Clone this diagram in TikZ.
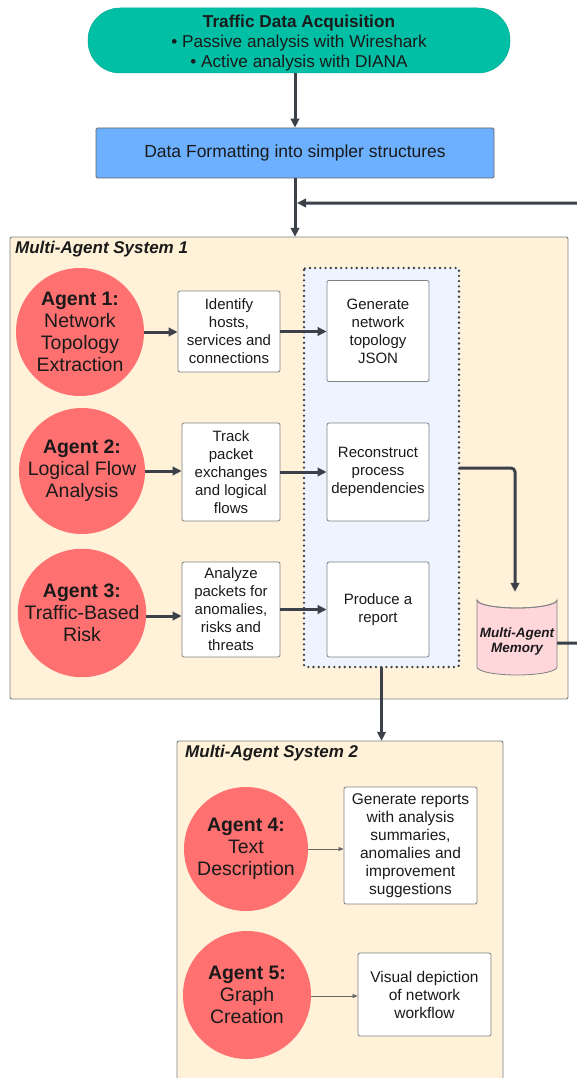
\documentclass[tikz,border=0pt]{standalone}
\usepackage{fontspec}
\setmainfont{Liberation Sans}
\usetikzlibrary{arrows.meta,calc}
\definecolor{teal1}{HTML}{00BFA5}
\definecolor{blue1}{HTML}{6CB0FF}
\definecolor{cream}{HTML}{FFF2D9}
\definecolor{paleblue}{HTML}{EDF4FF}
\definecolor{agentred}{HTML}{FF7070}
\definecolor{pink1}{HTML}{FFD6D9}
\definecolor{arrowc}{HTML}{3B4049}
\definecolor{borderc}{HTML}{7E8085}
\definecolor{txt}{HTML}{1A1A1A}
\tikzset{
  agent/.style={circle, fill=agentred, inner sep=0pt, align=center, text=txt,
    font=\fontsize{19.5}{22}\selectfont},
  taskbox/.style={rectangle, draw=borderc, line width=0.8pt, fill=white, rounded corners=2pt,
    inner sep=0pt, align=center, text=txt, font=\fontsize{15}{18}\selectfont},
  frame/.style={draw=borderc, line width=0.9pt, fill=cream, rounded corners=2pt},
  frametitle/.style={anchor=west, inner sep=0pt, text=txt, font=\fontsize{17}{20}\selectfont\bfseries\itshape},
  mainarrow/.style={draw=arrowc, line width=3pt, -{Triangle[length=9pt,width=8.5pt]}},
  mainline/.style={draw=arrowc, line width=3pt},
  thinarrow/.style={draw=gray!80!black, line width=0.7pt, -{Triangle[length=5pt,width=4pt]}},
}
\begin{document}
\begin{tikzpicture}[x=1pt,y=-1pt]
\useasboundingbox (0,0) rectangle (576,1078);
\fill[white] (0,0) rectangle (576,1078);

% top
\node[rectangle, rounded corners=32pt, fill=teal1, draw=teal1!90!black, line width=0.5pt,
  minimum width=422pt, minimum height=65pt, inner sep=0pt,
  label={[yshift=-2.5pt, align=center, text=txt, inner sep=0pt, font=\fontsize{17.2}{20}\selectfont]center:{\textbf{Traffic Data Acquisition}\\ • Passive analysis with Wireshark\\ • Active analysis with DIANA}}] (acq) at (299,40.5) {};
\node[rectangle, fill=blue1, draw=borderc!80!black, line width=0.8pt, rounded corners=1.5pt,
  minimum width=398pt, minimum height=50pt, inner sep=0pt, text=txt,
  font=\fontsize{17.5}{20}\selectfont] (fmt) at (295,153) {Data Formatting into simpler structures};

% MAS 1
\path[frame] (10,237) rectangle (568,699);
\node[minimum width=558pt, minimum height=462pt, inner sep=0pt] (mas1) at (289,468) {};
\node[frametitle] (t1) at (15,249) {Multi-Agent System 1};

\path[fill=paleblue] (304,268) rectangle (459,667);
\draw[arrowc, line width=2.6pt, line cap=round, dash pattern=on 0pt off 5.2pt, rounded corners=2pt] (304,268) rectangle (459,667);
\node[minimum width=155pt, minimum height=399pt, inner sep=0pt] (dot) at (381.5,467.5) {};

\node[agent, minimum size=128pt] (a1) at (80,332) {\textbf{Agent 1:}\\Network\\Topology\\Extraction};
\node[taskbox, minimum width=102pt, minimum height=81pt] (b1) at (229,331.5) {Identify\\hosts,\\services and\\connections};
\node[taskbox, minimum width=102pt, minimum height=101pt] (g1) at (378,331) {Generate\\network\\topology\\JSON};

\node[agent, minimum size=126pt] (a2) at (82,471) {\textbf{Agent 2:}\\Logical Flow\\Analysis};
\node[taskbox, minimum width=98pt, minimum height=98pt] (b2) at (231,472) {Track\\packet\\exchanges\\and logical\\flows};
\node[taskbox, minimum width=102pt, minimum height=98pt] (g2) at (378,472) {Reconstruct\\process\\dependencies};

\node[agent, minimum size=124pt] (a3) at (82,613) {\textbf{Agent 3:}\\Traffic-Based\\Risk};
\node[taskbox, minimum width=98pt, minimum height=95pt] (b3) at (231,609.5) {Analyze\\packets for\\anomalies,\\risks and\\threats};
\node[taskbox, minimum width=102pt, minimum height=95pt] (g3) at (378,609.5) {Produce a\\report};

% memory cylinder
\node[minimum width=80pt, minimum height=83pt, inner sep=0pt] (mem) at (517,633.5) {};
\path[fill=pink1, draw=borderc, line width=0.8pt]
  (477,600) -- (477,667) arc[start angle=180, end angle=360, x radius=40, y radius=-8]
  -- (557,600) arc[start angle=0, end angle=-180, x radius=40, y radius=-8] -- cycle;
\draw[borderc, line width=0.8pt] (477,600) arc[start angle=180, end angle=360, x radius=40, y radius=-8];
\node[align=center, inner sep=0pt, text=txt, font=\fontsize{13.5}{15}\selectfont\bfseries\itshape] (memlbl) at (517,641.5) {Multi-Agent\\Memory};

% MAS 2
\path[frame] (177,741) rectangle (503,1095);
\node[minimum width=326pt, minimum height=354pt, inner sep=0pt] (mas2) at (340,918) {};
\node[frametitle] (t2) at (185,753) {Multi-Agent System 2};

\node[agent, minimum size=124pt] (a4) at (246,849) {\textbf{Agent 4:}\\Text\\Description};
\node[taskbox, minimum width=133pt, minimum height=117pt, font=\fontsize{15.5}{18}\selectfont] (b4) at (410.5,845.5)
  {Generate reports\\with analysis\\summaries,\\anomalies and\\improvement\\suggestions};
\node[agent, minimum size=128pt] (a5) at (247,995) {\textbf{Agent 5:}\\Graph\\Creation};
\node[taskbox, minimum width=133pt, minimum height=83pt, font=\fontsize{15.5}{18}\selectfont] (b5) at (424.5,994.5)
  {Visual depiction\\of network\\workflow};

% connectors
\draw[mainarrow] (acq.south -| fmt.north) -- (fmt.north);
\draw[mainarrow] (fmt.south) -- (fmt.south |- mas1.north);
\draw[mainarrow] (a1.east) -- (a1.east -| b1.west);
\draw[mainarrow] (b1.east) -- (b1.east -| g1.west);
\draw[mainarrow] (a2.east) -- (a2.east -| b2.west);
\draw[mainarrow] (b2.east) -- (b2.east -| g2.west);
\draw[mainarrow] ([yshift=-3pt]a3.east) -- ([yshift=-3pt]a3.east -| b3.west);
\draw[mainarrow] (b3.east) -- (b3.east -| g3.west);
\coordinate (dr) at (459,468);
\draw[mainarrow, rounded corners=4pt] (dr) -| ([xshift=-2pt]mem.north);
\coordinate (memout) at (557,643);
\coordinate (loopR) at (600,203);
\coordinate (join) at (297,203);
\draw[mainarrow, rounded corners=4pt] (memout) -| (loopR) -- (join);
\draw[mainarrow] (dot.south) -- (dot.south |- mas2.north);
\draw[thinarrow] (a4.east) -- (a4.east -| b4.west);
\draw[thinarrow] ([yshift=-1pt]a5.east) -- ([yshift=-1pt]a5.east -| b5.west);
\end{tikzpicture}
\end{document}
